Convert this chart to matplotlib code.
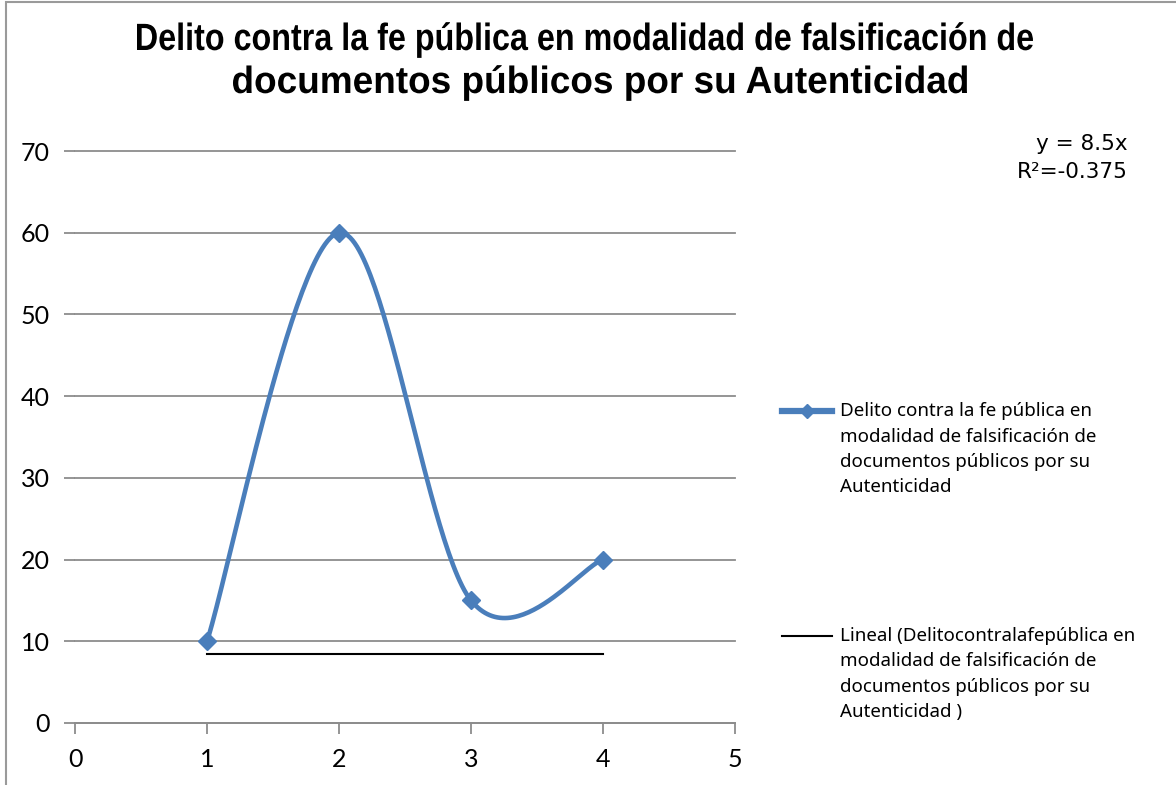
import numpy as np
import matplotlib.pyplot as plt
from matplotlib.lines import Line2D
from matplotlib.patches import Rectangle, PathPatch
from matplotlib.textpath import TextPath
from matplotlib.font_manager import FontProperties
from matplotlib.transforms import Affine2D, IdentityTransform

# Data
x_vals = [1, 2, 3, 4]
y_vals = [10, 60, 15, 20]
trend_value = 8.5          # trendline shown as "y = 8.5x" but drawn flat at 8.5
x_ticks = [0, 1, 2, 3, 4, 5]
y_ticks = [0, 10, 20, 30, 40, 50, 60, 70]

title_1 = "Delito contra la fe pública en modalidad de falsificación de"
title_2 = "documentos públicos por su Autenticidad"
series_lines = ["Delito contra la fe pública en", "modalidad de falsificación de",
                "documentos públicos por su", "Autenticidad"]
trend_lines = ["Lineal (Delitocontralafepública en", "modalidad de falsificación de",
               "documentos públicos por su", "Autenticidad )"]
eq_lines = ["y = 8.5x", "R²=-0.375"]

blue = "#4A7EBB"
grid_gray = "#8C8C8C"
tick_font = "Lato"
legend_font = "Noto Sans"
W, H = 1176, 785


def excel_smooth(xs, ys, n=60):
    # cubic bezier through the points, like Excel's "smoothed line"
    pts = np.column_stack([xs, ys]).astype(float)
    ext = np.vstack([pts[0], pts, pts[-1]])
    out = []
    for i in range(len(pts) - 1):
        p0, p3 = pts[i], pts[i + 1]
        p1 = p0 + (ext[i + 2] - ext[i]) / 6.0
        p2 = p3 - (ext[i + 3] - ext[i + 1]) / 6.0
        t = np.linspace(0, 1, n)[:, None]
        seg = (1 - t) ** 3 * p0 + 3 * (1 - t) ** 2 * t * p1 + 3 * (1 - t) * t ** 2 * p2 + t ** 3 * p3
        out.append(seg)
    curve = np.vstack(out)
    return curve[:, 0], curve[:, 1]


def fitted_title(fig, text, left, right, baseline, px_size=38):
    # title text squeezed to a given pixel width (the original is condensed)
    tp = TextPath((0, 0), text, size=px_size,
                  prop=FontProperties(family="Liberation Sans", weight="bold"))
    ext = tp.get_extents()
    sx = (right - left) / ext.width
    tr = Affine2D().translate(-ext.x0, 0).scale(sx, 1).translate(left, H - baseline)
    patch = PathPatch(tr.transform_path(tp), transform=IdentityTransform(),
                      facecolor="black", edgecolor="none")
    fig.add_artist(patch)


fig = plt.figure(figsize=(W / 100, H / 100), dpi=100)
fig.patches.append(Rectangle((0.0055, -0.05), 1.2, 1.047, transform=fig.transFigure,
                             fill=False, edgecolor="#9A9A9A", linewidth=1.5))

ax = fig.add_axes([0.0638, 0.079, 0.5612, 0.7286])

sx, sy = excel_smooth(x_vals, y_vals)
ax.plot(sx, sy, color=blue, linewidth=3.3, solid_capstyle="round", zorder=3)
ax.plot(x_vals, y_vals, linestyle="none", marker="D", markersize=9,
        color=blue, zorder=4)
ax.plot([x_vals[0], x_vals[-1]], [trend_value, trend_value], color="black",
        linewidth=1.5, zorder=2)

ax.set_xlim(0, 5)
ax.set_ylim(0, 70)
ax.set_xticks(x_ticks)
ax.set_yticks(y_ticks)
ax.yaxis.grid(True, color=grid_gray, linewidth=1.3)
for gl in ax.get_ygridlines():
    gl.set_clip_on(False)
ax.set_axisbelow(True)
for s in ["top", "right", "left"]:
    ax.spines[s].set_visible(False)
ax.spines["bottom"].set_color(grid_gray)
ax.spines["bottom"].set_linewidth(1.3)
ax.tick_params(axis="y", length=8, color=grid_gray, width=1.3, pad=10)
ax.tick_params(axis="x", length=8, color=grid_gray, width=1.3, pad=10)
for lab in ax.get_xticklabels() + ax.get_yticklabels():
    lab.set_fontfamily(tick_font)
    lab.set_fontsize(18)

fitted_title(fig, title_1, 137, 1033, 50)
fitted_title(fig, title_2, 233, 967, 93)

# trendline equation
for i, line in enumerate(eq_lines):
    fig.text(1128 / W, 1 - (144 + 28 * i) / H, line, ha="right", va="center",
             fontsize=15.5, family="DejaVu Sans")

# legend entries
fig.add_artist(Line2D([782 / W, 832 / W], [1 - 411 / H] * 2, color=blue, linewidth=4.5))
fig.add_artist(Line2D([807 / W], [1 - 411 / H], color=blue, marker="D", markersize=7))
for i, line in enumerate(series_lines):
    fig.text(840 / W, 1 - (411 + 25.5 * i) / H, line, ha="left", va="center",
             fontsize=13.5, family=legend_font)
fig.add_artist(Line2D([782 / W, 832 / W], [1 - 636 / H] * 2, color="black", linewidth=1.5))
for i, line in enumerate(trend_lines):
    fig.text(840 / W, 1 - (636 + 25.5 * i) / H, line, ha="left", va="center",
             fontsize=13.5, family=legend_font)

fig.savefig("out.png", dpi=100)
